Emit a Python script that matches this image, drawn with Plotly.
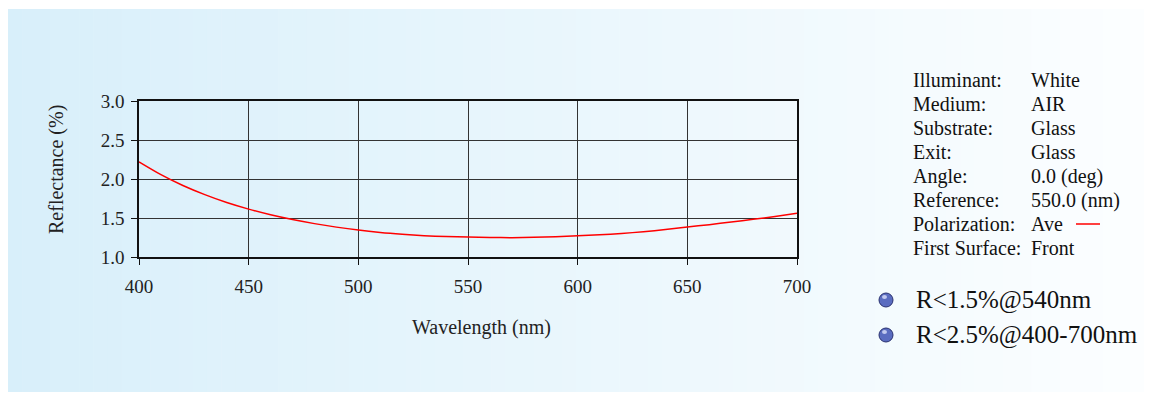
import plotly.graph_objects as go

# ---- data ----
wavelength = [400, 410, 420, 430, 440, 450, 460, 470, 480, 490, 500, 510, 520, 530, 540,
              550, 560, 570, 580, 590, 600, 610, 620, 630, 640, 650, 660, 670, 680, 690, 700]
reflectance = [2.22, 2.056, 1.917, 1.80, 1.699, 1.614, 1.541, 1.48, 1.428, 1.383, 1.345, 1.315,
               1.292, 1.274, 1.262, 1.255, 1.250, 1.248, 1.252, 1.260, 1.272, 1.285, 1.302,
               1.324, 1.352, 1.384, 1.415, 1.448, 1.483, 1.52, 1.56]
x_ticks = [400, 450, 500, 550, 600, 650, 700]
y_ticks = [1.0, 1.5, 2.0, 2.5, 3.0]
x_title = "Wavelength (nm)"
y_title = "Reflectance (%)"
info_labels = ["Illuminant:", "Medium:", "Substrate:", "Exit:", "Angle:", "Reference:",
               "Polarization:", "First Surface:"]
info_values = ["White", "AIR", "Glass", "Glass", "0.0 (deg)", "550.0 (nm)", "Ave", "Front"]
bullet_texts = ["R&lt;1.5%@540nm", "R&lt;2.5%@400-700nm"]

W, H = 1152, 394
OFF = 8  # page offset of the figure (body margin)
L, R, T, B = 139, 797, 101, 257  # plot area in page pixels
FONT = "Liberation Serif"

def px(x):
    return (x - L) / (R - L)

def py(y):
    return (B - y) / (B - T)

fig = go.Figure()
fig.add_trace(go.Scatter(x=wavelength, y=reflectance, mode="lines",
                         line=dict(color="#ff0000", width=1.5, shape="spline", smoothing=0.8),
                         showlegend=False, hoverinfo="skip"))

shapes = []
# gradient background panel
n = 80
x0p, x1p = 8, 1145
c0 = (216, 239, 250)
c1 = (252, 254, 255)
for i in range(n):
    a = x0p + (x1p - x0p) * i / n
    b = x0p + (x1p - x0p) * (i + 1) / n + 0.6
    t = (i + 0.5) / n
    col = tuple(round(c0[k] + (c1[k] - c0[k]) * t) for k in range(3))
    shapes.append(dict(type="rect", xref="paper", yref="paper", layer="below",
                       x0=px(a), x1=px(min(b, x1p)), y0=py(392), y1=py(9),
                       line=dict(width=0), fillcolor="rgb(%d,%d,%d)" % col))
# legend line sample
shapes.append(dict(type="line", xref="paper", yref="paper", x0=px(1076), x1=px(1100),
                   y0=py(224), y1=py(224), line=dict(color="#ff0000", width=1.5)))
# bullets
for yy in [300, 335]:
    shapes.append(dict(type="circle", xref="paper", yref="paper",
                       x0=px(879), x1=px(893), y0=py(yy + 7), y1=py(yy - 7),
                       fillcolor="#5a6cc0", line=dict(color="#2a3170", width=1)))
    shapes.append(dict(type="circle", xref="paper", yref="paper",
                       x0=px(882), x1=px(887), y0=py(yy - 1), y1=py(yy - 5),
                       fillcolor="rgba(220,225,250,0.8)", line=dict(width=0)))

annotations = []
for i, (lab, val) in enumerate(zip(info_labels, info_values)):
    yy = 80 + 24 * i
    annotations.append(dict(text=lab, x=px(911), y=py(yy), xref="paper", yref="paper",
                            xanchor="left", yanchor="middle", showarrow=False,
                            font=dict(family=FONT, size=20, color="#111")))
    annotations.append(dict(text=val, x=px(1029), y=py(yy), xref="paper", yref="paper",
                            xanchor="left", yanchor="middle", showarrow=False,
                            font=dict(family=FONT, size=20, color="#111")))
for i, t in enumerate(bullet_texts):
    yy = 300 + 35 * i
    annotations.append(dict(text=t, x=px(914), y=py(yy), xref="paper", yref="paper",
                            xanchor="left", yanchor="middle", showarrow=False,
                            font=dict(family=FONT, size=25, color="#111")))
# axis titles
annotations.append(dict(text=x_title, x=px(481), y=py(327), xref="paper", yref="paper",
                        xanchor="center", yanchor="middle", showarrow=False,
                        font=dict(family=FONT, size=20, color="#222")))
annotations.append(dict(text=y_title, x=px(56), y=py(170), xref="paper", yref="paper",
                        xanchor="center", yanchor="middle", showarrow=False, textangle=-90,
                        font=dict(family=FONT, size=20, color="#222")))

fig.update_layout(
    width=W, height=H,
    margin=dict(l=L - OFF, r=W + OFF - R, t=T - OFF, b=H + OFF - B, pad=0),
    paper_bgcolor="white", plot_bgcolor="rgba(0,0,0,0)",
    shapes=shapes, annotations=annotations,
    xaxis=dict(range=[400, 700], tickvals=x_ticks, ticktext=[str(v) for v in x_ticks],
               showgrid=True, gridcolor="#333", gridwidth=1,
               showline=True, linecolor="#111", linewidth=1.5, mirror=True,
               ticks="outside", ticklen=6, tickcolor="#111", ticklabelstandoff=5,
               tickfont=dict(family=FONT, size=19, color="#222"),
               zeroline=False),
    yaxis=dict(range=[1.0, 3.0], tickvals=y_ticks, ticktext=["%.1f" % v for v in y_ticks],
               showgrid=True, gridcolor="#333", gridwidth=1,
               showline=True, linecolor="#111", linewidth=1.5, mirror=True,
               ticks="outside", ticklen=6, tickcolor="#111", ticklabelstandoff=3,
               tickfont=dict(family=FONT, size=19, color="#222"),
               zeroline=False),
)

fig.write_html("out.html")
